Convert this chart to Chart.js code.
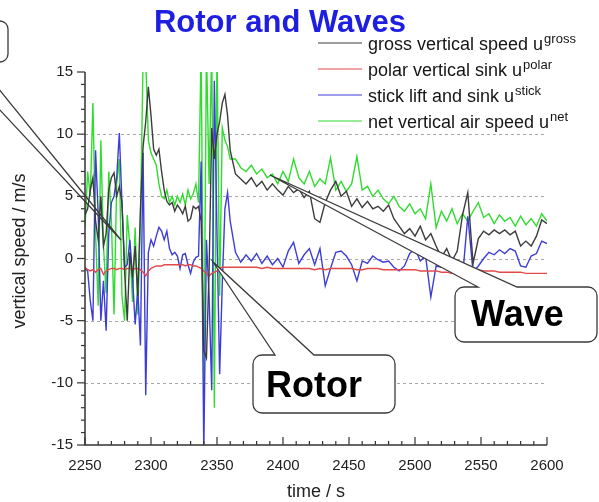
<!DOCTYPE html>
<html>
<head>
<meta charset="utf-8">
<script src="https://cdn.jsdelivr.net/npm/chart.js@4.4.1/dist/chart.umd.min.js"></script>
<style>
  body { margin: 0; background: #fff; }
  #wrap { width: 599px; height: 502px; }
</style>
</head>
<body>
<div id="wrap"><canvas id="rotorChart" width="599" height="502"></canvas></div>
<script>
// time axis (s) - 2 s steps through the rotor, 4 s steps in the wave part
const times = [
  2250,2252,2254,2256,2258,2260,2262,2264,2266,2268,
  2270,2272,2274,2276,2278,2280,2282,2284,2286,2288,
  2290,2292,2294,2296,2298,2300,2302,2304,2306,2308,
  2310,2312,2314,2316,2318,2320,2322,2324,2326,2328,
  2330,2332,2334,2336,2338,2340,2342,2344,2346,2348,
  2350,2352,2354,2356,2358,2360,
  2364,2368,2372,2376,2380,2384,2388,2392,2396,2400,
  2404,2408,2412,2416,2420,2424,2428,2432,2436,2440,
  2444,2448,2452,2456,2460,2464,2468,2472,2476,2480,
  2484,2488,2492,2496,2500,2504,2508,2512,2516,2520,
  2524,2528,2532,2536,2540,2544,2548,2552,2556,2560,
  2564,2568,2572,2576,2580,2584,2588,2592,2596,2600
];

// gross vertical speed u_gross (m/s)
const gross = [
  3.5, 4.0, 5.5, 6.5, 3.0, 1.5, 5.0, 1.0, 2.0, 5.5,
  6.5, 6.9, 5.0, 5.8, 4.5, -1.0, -5.0, 0.5, -1.5, 1.0,
  -3.0, 4.0, 9.0, 11.0, 13.8, 11.5, 8.8, 8.3, 8.8, 7.0,
  5.5, 4.6, 4.3, 4.5, 3.8, 4.3, 4.0, 3.6, 4.2, 3.0,
  3.2, 4.2, 4.0, 4.2, 3.0, -7.4, -8.0, -1.0, 10.5, 8.0,
  10.0, 11.0, 12.5, 13.2, 11.5, 8.7,
  6.8, 6.4, 6.0, 6.5, 5.8, 6.2, 5.5, 6.0, 5.5, 5.1,
  5.8, 5.3, 5.6, 4.9, 5.4, 3.2, 2.9, 4.5, 5.5, 6.2,
  5.0, 5.4, 4.2, 4.8, 4.1, 4.6, 4.0, 4.2, 3.8, 4.3,
  3.2, 2.6, 2.0, 2.4, 1.8, 2.6, 1.5, 2.0, 1.0, 0.1,
  0.8, -0.2, 0.6, 3.5, 5.3, -0.4, 1.6, 2.2, 1.9, 2.3,
  2.0, 2.3, 1.9, 2.2, 1.0, 1.4, 1.0, 1.8, 3.1, 2.8
];

// polar vertical sink u_polar (m/s)
const polar = [
  -0.7, -0.9, -1.0, -0.9, -1.1, -0.9, -0.8, -1.3, -1.0, -0.9,
  -0.8, -0.8, -0.9, -0.8, -0.8, -0.9, -0.8, -0.8, -0.9, -0.8,
  -0.8, -0.9, -1.1, -1.4, -1.0, -0.8, -0.7, -0.6, -0.6, -0.6,
  -0.5, -0.5, -0.5, -0.5, -0.5, -0.5, -0.5, -0.5, -0.6, -0.5,
  -0.5, -0.6, -0.6, -0.7, -0.8, -1.0, -1.2, -1.4, -1.2, -1.1,
  -1.0, -0.8, -0.7, -0.7, -0.7, -0.7,
  -0.7, -0.7, -0.7, -0.7, -0.7, -0.8, -0.7, -0.8, -0.8, -0.8,
  -0.8, -0.8, -0.8, -0.8, -0.8, -0.9, -0.8, -0.9, -0.8, -0.8,
  -0.8, -0.8, -0.8, -0.9, -0.9, -0.8, -0.8, -0.8, -0.9, -0.9,
  -0.9, -0.9, -0.9, -0.9, -0.9, -1.0, -1.0, -1.0, -1.0, -1.1,
  -1.1, -1.2, -1.2, -1.1, -1.0, -0.9, -0.9, -1.0, -1.0, -1.0,
  -1.1, -1.1, -1.1, -1.1, -1.1, -1.2, -1.2, -1.2, -1.2, -1.2
];

// stick lift and sink u_stick (m/s)
const stick = [
  -0.8, -1.0, -3.4, -5.0, 8.7, 3.5, -5.0, -1.8, -5.8, 2.0,
  4.5, 5.0, 6.5, 10.1, 4.5, -0.7, -0.5, 1.5, -1.5, -5.3,
  -2.5, -7.0, 8.5, -11.0, 0.5, 1.5, 1.0, 1.8, 2.5, 2.2,
  1.5, 2.2, 0.8, 0.3, 0.5, 0.2, -0.8, 0.3, 0.4, -0.5,
  -1.2, -0.3, 0.1, 0.2, 7.8, -15.5, 1.5, -3.0, -10.6, 14.3,
  2.0, -9.3, -2.0, 4.0, 5.3, 3.0,
  0.5, -0.3, 0.3, -0.2, 0.4, -0.4, 0.2, -0.5, 0.0, -0.7,
  0.6, 1.3, -0.4, 0.3, 0.8, -0.5, 0.8, -2.2, -0.8, 0.5,
  0.6, 0.2, -0.5, -1.8, -0.2, -0.4, 0.2, -0.1, -0.3, -0.2,
  -0.7, -1.0, -0.6, 0.4, 0.8, -0.2, 0.2, -3.1, -0.6, -0.7,
  0.2, 0.0, -1.2, -1.5, 3.4, -1.1, -0.6, 0.0, 0.5, 0.3,
  0.7, 0.4, 0.8, 0.6, -0.6, -0.7, 0.2, 0.4, 1.4, 1.2
];

// net vertical air speed u_net (m/s)
const net = [
  2.5, 7.0, 5.0, 12.5, 2.0, -3.8, 9.5, 1.0, -2.8, 7.0,
  3.0, -4.5, 6.0, 8.0, -3.0, -5.0, 3.5, 1.0, -3.5, 2.5,
  -4.5, 3.0, 16, 16, 9.5, 8.5, 8.0, 7.5, 6.0, 5.0,
  4.8, 5.5, 4.5, 5.0, 4.3, 5.0, 4.5, 5.2, 4.3, 5.5,
  4.8, 5.2, 6.0, 4.5, 17, -11, 17, 6.0, 17, -12,
  17, -3.0, 10.5, 9.5, 9.0, 8.0,
  8.0, 7.3, 7.0, 7.5, 6.8, 7.2, 6.5, 6.8, 6.0, 7.0,
  6.2, 8.0, 6.5, 6.0, 7.0, 5.8, 6.4, 6.0, 8.1, 5.5,
  6.2, 5.4, 6.0, 8.2, 5.5, 5.8, 5.0, 5.5, 4.8, 4.4,
  5.0, 4.2, 3.8, 4.4, 3.6, 4.0, 3.2, 6.0, 2.5, 3.8,
  3.0, 4.0, 2.8, 3.6, 3.0, 3.8, 4.5, 3.3, 3.6, 2.8,
  3.5, 3.0, 3.3, 2.6, 3.4, 2.7, 3.2, 2.6, 3.6, 3.0
];

const xTicks = [2250, 2300, 2350, 2400, 2450, 2500, 2550, 2600];
const yTicks = [-15, -10, -5, 0, 5, 10, 15];
const yGrid = [-10, -5, 0, 5, 10];

const FONT = '"Liberation Sans", Arial, Helvetica, sans-serif';

function pts(values) {
  return times.map((t, i) => ({ x: t, y: values[i] }));
}

// speech bubble with a pointer leaving from the top edge
function bubble(ctx, x, y, w, h, r, b1, b2, ax, ay) {
  ctx.beginPath();
  ctx.moveTo(b2, y);
  ctx.lineTo(x + w - r, y);
  ctx.arcTo(x + w, y, x + w, y + r, r);
  ctx.lineTo(x + w, y + h - r);
  ctx.arcTo(x + w, y + h, x + w - r, y + h, r);
  ctx.lineTo(x + r, y + h);
  ctx.arcTo(x, y + h, x, y + h - r, r);
  ctx.lineTo(x, y + r);
  ctx.arcTo(x, y, x + r, y, r);
  ctx.lineTo(b1, y);
  ctx.lineTo(ax, ay);
  ctx.closePath();
  ctx.fillStyle = '#fff';
  ctx.fill();
  ctx.strokeStyle = '#3a3a3a';
  ctx.lineWidth = 1.3;
  ctx.stroke();
}

const decorations = {
  id: 'decorations',
  beforeDatasetsDraw(chart) {
    const { ctx, chartArea: a, scales: { y } } = chart;
    ctx.save();
    ctx.strokeStyle = '#a8a8a8';
    ctx.lineWidth = 1;
    ctx.setLineDash([3, 3]);
    yGrid.forEach(v => {
      const py = Math.round(y.getPixelForValue(v)) + 0.5;
      ctx.beginPath();
      ctx.moveTo(a.left, py);
      ctx.lineTo(a.right, py);
      ctx.stroke();
    });
    ctx.restore();
  },
  afterDatasetsDraw(chart) {
    const { ctx, chartArea: a, scales: { x, y } } = chart;
    ctx.save();

    // axes with ticks
    ctx.strokeStyle = '#333';
    ctx.lineWidth = 1.5;
    ctx.beginPath();
    ctx.moveTo(a.left, a.top);
    ctx.lineTo(a.left, a.bottom);
    ctx.lineTo(a.right, a.bottom);
    ctx.stroke();
    ctx.lineWidth = 1.2;
    for (let v = -15; v <= 15; v++) {
      const py = y.getPixelForValue(v);
      const len = v % 5 === 0 ? 8 : 4;
      ctx.beginPath();
      ctx.moveTo(a.left, py);
      ctx.lineTo(a.left - len, py);
      ctx.stroke();
    }
    for (let t = 2250; t <= 2600; t += 10) {
      const px = x.getPixelForValue(t);
      const len = t % 50 === 0 ? 8 : 4;
      ctx.beginPath();
      ctx.moveTo(px, a.bottom);
      ctx.lineTo(px, a.bottom - len);
      ctx.stroke();
    }

    // axis titles
    ctx.fillStyle = '#222';
    ctx.font = '18px ' + FONT;
    ctx.textAlign = 'center';
    ctx.textBaseline = 'middle';
    ctx.fillText('time / s', (a.left + a.right) / 2, 492);
    ctx.save();
    ctx.translate(20, 251);
    ctx.rotate(-Math.PI / 2);
    ctx.fillText('vertical speed / m/s', 0, 0);
    ctx.restore();

    // title
    ctx.fillStyle = '#1e1ee0';
    ctx.font = 'bold 31px ' + FONT;
    ctx.textBaseline = 'alphabetic';
    ctx.fillText('Rotor and Waves', 280, 32);

    // legend
    ctx.fillStyle = '#fff';
    ctx.fillRect(314, 34, 285, 100);
    chart.data.datasets.forEach((ds, i) => {
      const base = 50 + i * 26;
      ctx.strokeStyle = ds.borderColor;
      ctx.lineWidth = 1.2;
      ctx.beginPath();
      ctx.moveTo(318, base - 7);
      ctx.lineTo(362, base - 7);
      ctx.stroke();
      ctx.fillStyle = '#151515';
      ctx.textAlign = 'left';
      ctx.font = '18px ' + FONT;
      ctx.fillText(ds.label, 368, base);
      const w = ctx.measureText(ds.label).width;
      ctx.font = '13px ' + FONT;
      ctx.fillText(ds.sup, 368 + w + 1, base - 7);
    });

    // callouts
    ctx.strokeStyle = '#3a3a3a';
    ctx.lineWidth = 1.3;
    ctx.beginPath();
    ctx.moveTo(-2, 88);
    ctx.lineTo(121, 240);
    ctx.lineTo(-2, 108);
    ctx.stroke();
    bubble(ctx, -150, 21, 158, 41, 8, -60, -30, -60, 21);

    bubble(ctx, 253, 355, 142, 58, 9, 275, 314, 213, 262);
    bubble(ctx, 455, 287, 142, 55, 9, 478, 517, 270, 175);
    ctx.fillStyle = '#000';
    ctx.font = 'bold 36px ' + FONT;
    ctx.textAlign = 'left';
    ctx.fillText('Rotor', 266, 397);
    ctx.fillText('Wave', 471, 326);

    ctx.restore();
  }
};

const ctx = document.getElementById('rotorChart').getContext('2d');
const rotorChart = new Chart(ctx, {
  type: 'line',
  data: {
    datasets: [{
      label: 'gross vertical speed u',
      sup: 'gross',
      data: pts(gross),
      borderColor: '#3c3c3c'
    }, {
      label: 'polar vertical sink u',
      sup: 'polar',
      data: pts(polar),
      borderColor: '#e24a4a'
    }, {
      label: 'stick lift and sink u',
      sup: 'stick',
      data: pts(stick),
      borderColor: '#3c3cd8'
    }, {
      label: 'net vertical air speed u',
      sup: 'net',
      data: pts(net),
      borderColor: '#2fdc2f'
    }]
  },
  options: {
    responsive: false,
    animation: false,
    layout: { padding: { left: 0, right: 52, top: 72, bottom: 0 } },
    elements: {
      point: { radius: 0 },
      line: { borderWidth: 1.4, tension: 0 }
    },
    plugins: {
      legend: { display: false },
      title: { display: false },
      tooltip: { enabled: false }
    },
    scales: {
      x: {
        type: 'linear',
        min: 2250,
        max: 2600,
        afterBuildTicks: s => { s.ticks = xTicks.map(v => ({ value: v })); },
        afterFit: s => { s.height = 57; },
        ticks: {
          callback: v => String(v),
          font: { family: FONT, size: 15 },
          color: '#222',
          padding: 12,
          maxRotation: 0
        },
        grid: { display: false, drawTicks: false },
        border: { display: false }
      },
      y: {
        min: -15,
        max: 15,
        afterBuildTicks: s => { s.ticks = yTicks.map(v => ({ value: v })); },
        afterFit: s => { s.width = 85; },
        ticks: {
          callback: v => String(v),
          font: { family: FONT, size: 15 },
          color: '#222',
          padding: 12
        },
        grid: { display: false, drawTicks: false },
        border: { display: false }
      }
    }
  },
  plugins: [decorations]
});
</script>
</body>
</html>
